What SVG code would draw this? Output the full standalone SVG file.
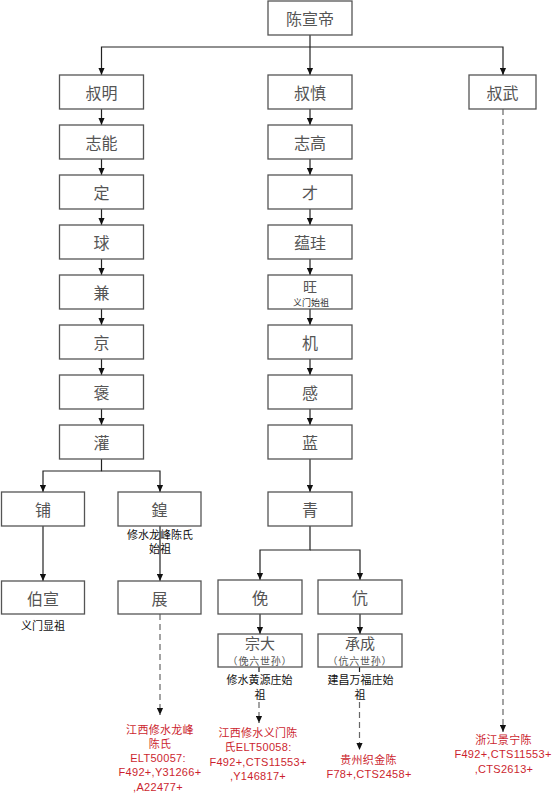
<svg xmlns="http://www.w3.org/2000/svg" width="554" height="800" viewBox="0 0 554 800">
<defs>
<marker id="arr" viewBox="0 0 8 8" refX="8" refY="4" markerWidth="7" markerHeight="7" markerUnits="userSpaceOnUse" orient="auto">
<path d="M0,0.5 L8,4 L0,7.5 z" fill="#111"/>
</marker>
<style>
.box{fill:#fff;stroke:#555;stroke-width:1.3}
.t{font-family:"Noto Sans CJK SC",sans-serif;font-size:16px;fill:#555;text-anchor:middle;dominant-baseline:central}
.ln{fill:none;stroke:#222;stroke-width:1.2}
.dl{fill:none;stroke:#666;stroke-width:1.2;stroke-dasharray:6 4}
.lb{font-family:"Liberation Sans","Noto Sans CJK SC",sans-serif;font-size:11px;fill:#111;text-anchor:middle;dominant-baseline:central}
.rd{font-family:"Liberation Sans","Noto Sans CJK SC",sans-serif;font-size:11px;fill:#cc1f2f;text-anchor:middle;dominant-baseline:central;letter-spacing:0.3px}
.sm{font-family:"Noto Sans CJK SC",sans-serif;font-size:10px;fill:#555;text-anchor:middle;dominant-baseline:central}
</style>
</defs>
<rect width="554" height="800" fill="#fff"/>
<g id="connectors">
<path class="ln" d="M310,35 V75" marker-end="url(#arr)"/>
<path class="ln" d="M310,47 H101.5 V75" marker-end="url(#arr)"/>
<path class="ln" d="M310,47 H503 V75" marker-end="url(#arr)"/>
<path class="ln" d="M101.5,109 V125" marker-end="url(#arr)"/>
<path class="ln" d="M101.5,159 V175" marker-end="url(#arr)"/>
<path class="ln" d="M101.5,209 V225" marker-end="url(#arr)"/>
<path class="ln" d="M101.5,259 V275" marker-end="url(#arr)"/>
<path class="ln" d="M101.5,309 V325" marker-end="url(#arr)"/>
<path class="ln" d="M101.5,359 V375" marker-end="url(#arr)"/>
<path class="ln" d="M101.5,409 V425" marker-end="url(#arr)"/>
<path class="ln" d="M310,109 V125" marker-end="url(#arr)"/>
<path class="ln" d="M310,159 V175" marker-end="url(#arr)"/>
<path class="ln" d="M310,209 V225" marker-end="url(#arr)"/>
<path class="ln" d="M310,259 V275" marker-end="url(#arr)"/>
<path class="ln" d="M310,309 V325" marker-end="url(#arr)"/>
<path class="ln" d="M310,359 V375" marker-end="url(#arr)"/>
<path class="ln" d="M310,409 V425" marker-end="url(#arr)"/>
<path class="ln" d="M310,459 V492" marker-end="url(#arr)"/>
<path class="ln" d="M101.5,459 V471 H43 V492" marker-end="url(#arr)"/>
<path class="ln" d="M101.5,471 H160 V492" marker-end="url(#arr)"/>
<path class="ln" d="M43,526 V581" marker-end="url(#arr)"/>
<path class="ln" d="M160,526 V581" marker-end="url(#arr)"/>
<path class="ln" d="M310,526 V550 H260 V580" marker-end="url(#arr)"/>
<path class="ln" d="M310,550 H360 V580" marker-end="url(#arr)"/>
<path class="ln" d="M260,614 V634" marker-end="url(#arr)"/>
<path class="ln" d="M360,614 V634" marker-end="url(#arr)"/>
<path class="dl" d="M160,614 V715" marker-end="url(#arr)"/>
<path class="ln" d="M259,667 V672"/>
<path class="dl" d="M259,702 V723" marker-end="url(#arr)"/>
<path class="ln" d="M359.5,667 V672"/>
<path class="dl" d="M359.5,702 V750" marker-end="url(#arr)"/>
<path class="dl" d="M503,109 V732" marker-end="url(#arr)"/>
</g>
<g id="n-chenxuandi"><rect class="box" x="268" y="1" width="84" height="34"/><text class="t" x="310" y="18">陈宣帝</text></g>
<g id="n-shuming"><rect class="box" x="59.5" y="75" width="84" height="34"/><text class="t" x="101.5" y="92">叔明</text></g>
<g id="n-shushen"><rect class="box" x="268" y="75" width="84" height="34"/><text class="t" x="310" y="92">叔慎</text></g>
<g id="n-shuwu"><rect class="box" x="469" y="75" width="67" height="34"/><text class="t" x="502.5" y="92">叔武</text></g>
<g id="n-zhineng"><rect class="box" x="59.5" y="125" width="84" height="34"/><text class="t" x="101.5" y="142">志能</text></g>
<g id="n-ding"><rect class="box" x="59.5" y="175" width="84" height="34"/><text class="t" x="101.5" y="192">定</text></g>
<g id="n-qiu"><rect class="box" x="59.5" y="225" width="84" height="34"/><text class="t" x="101.5" y="242">球</text></g>
<g id="n-jian"><rect class="box" x="59.5" y="275" width="84" height="34"/><text class="t" x="101.5" y="292">兼</text></g>
<g id="n-jing"><rect class="box" x="59.5" y="325" width="84" height="34"/><text class="t" x="101.5" y="342">京</text></g>
<g id="n-bao"><rect class="box" x="59.5" y="375" width="84" height="34"/><text class="t" x="101.5" y="392">褒</text></g>
<g id="n-guan"><rect class="box" x="59.5" y="425" width="84" height="34"/><text class="t" x="101.5" y="442">灌</text></g>
<g id="n-zhigao"><rect class="box" x="268" y="125" width="84" height="34"/><text class="t" x="310" y="142">志高</text></g>
<g id="n-cai"><rect class="box" x="268" y="175" width="84" height="34"/><text class="t" x="310" y="192">才</text></g>
<g id="n-yungui"><rect class="box" x="268" y="225" width="84" height="34"/><text class="t" x="310" y="242">蕴珪</text></g>
<g id="n-wang"><rect class="box" x="268" y="275" width="84" height="34"/><text class="t" x="310" y="286" style="font-size:14px">旺</text><text class="sm" x="311" y="302" style="fill:#333;font-size:9px">义门始祖</text></g>
<g id="n-ji"><rect class="box" x="268" y="325" width="84" height="34"/><text class="t" x="310" y="342">机</text></g>
<g id="n-gan"><rect class="box" x="268" y="375" width="84" height="34"/><text class="t" x="310" y="392">感</text></g>
<g id="n-lan"><rect class="box" x="268" y="425" width="84" height="34"/><text class="t" x="310" y="442">蓝</text></g>
<g id="n-qing"><rect class="box" x="268" y="492" width="84" height="34"/><text class="t" x="310" y="509">青</text></g>
<g id="n-pu"><rect class="box" x="1.5" y="492" width="83" height="34"/><text class="t" x="43" y="509">铺</text></g>
<g id="n-huang"><rect class="box" x="118" y="492" width="83" height="34"/><text class="t" x="159.5" y="509">鍠</text>
<text class="lb" x="160" y="535">修水龙峰陈氏</text><text class="lb" x="160" y="549">始祖</text></g>
<g id="n-boxuan"><rect class="box" x="1.5" y="581" width="83" height="33"/><text class="t" x="43" y="597.5">伯宣</text><text class="lb" x="43" y="626">义门显祖</text></g>
<g id="n-zhan"><rect class="box" x="118" y="581" width="83" height="33"/><text class="t" x="159.5" y="597.5">展</text></g>
<g id="n-mian"><rect class="box" x="218" y="580" width="84" height="34"/><text class="t" x="260" y="597">俛</text></g>
<g id="n-kang"><rect class="box" x="318" y="580" width="84" height="34"/><text class="t" x="360" y="597">伉</text></g>
<g id="n-zongda"><rect class="box" x="218" y="634" width="84" height="33"/><text class="t" x="260" y="642" style="font-size:15px">宗大</text><text class="sm" x="260" y="660" style="font-size:10px;letter-spacing:0.8px">（俛六世孙）</text>
<text class="lb" x="259.5" y="680">修水黄源庄始</text><text class="lb" x="260" y="695">祖</text></g>
<g id="n-chengcheng"><rect class="box" x="318" y="634" width="84" height="33"/><text class="t" x="360" y="642" style="font-size:15px">承成</text><text class="sm" x="360" y="660" style="font-size:10px;letter-spacing:0.8px">（伉六世孙）</text>
<text class="lb" x="360.5" y="680">建昌万福庄始</text><text class="lb" x="360" y="695">祖</text></g>
<g id="r-longfeng"><text class="rd" x="160" y="730">江西修水龙峰</text><text class="rd" x="160" y="744">陈氏</text><text class="rd" x="158" y="758">ELT50057:</text><text class="rd" x="160" y="772">F492+,Y31266+</text><text class="rd" x="158" y="787">,A22477+</text></g>
<g id="r-yimen"><text class="rd" x="258" y="733">江西修水义门陈</text><text class="rd" x="258" y="747">氏ELT50058:</text><text class="rd" x="258" y="762">F492+,CTS11553+</text><text class="rd" x="258" y="776">,Y146817+</text></g>
<g id="r-zhijin"><text class="rd" x="368.5" y="760">贵州织金陈</text><text class="rd" x="369" y="774">F78+,CTS2458+</text></g>
<g id="r-jingning"><text class="rd" x="503.5" y="740">浙江景宁陈</text><text class="rd" x="503" y="754">F492+,CTS11553+</text><text class="rd" x="504" y="769">,CTS2613+</text></g>
</svg>
